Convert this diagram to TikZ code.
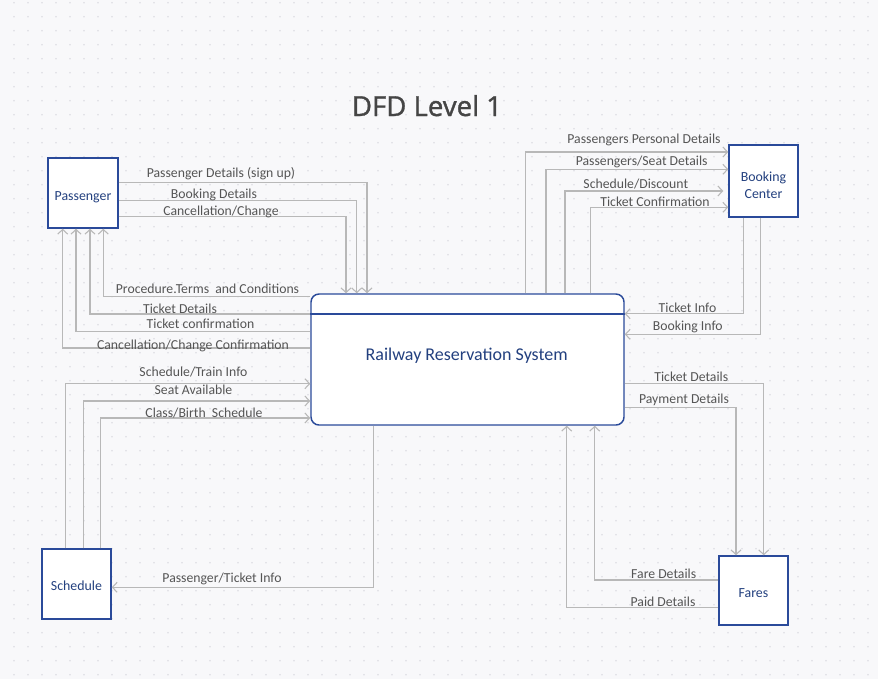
\documentclass[tikz,border=0pt]{standalone}
\usepackage{fontspec}
\setmainfont{Carlito}
\newfontfamily\titlefont{Open Sans}[FakeBold=1.2]
\usetikzlibrary{arrows.meta}
\definecolor{bg}{HTML}{F8F8FA}
\definecolor{dotc}{HTML}{DCDCE2}
\definecolor{boxblue}{HTML}{2A4A9A}
\definecolor{navy}{HTML}{23407F}
\definecolor{flowc}{HTML}{B8B8B8}
\definecolor{labelc}{HTML}{555555}
\definecolor{titlec}{HTML}{454545}
\tikzset{
 entity/.style={draw=boxblue, line width=1.1pt, fill=white, inner sep=0pt},
 etext/.style={text=navy, font=\fontsize{10.4}{13}\selectfont, align=center, inner sep=0pt},
 flow/.style={draw=flowc, line width=0.8pt, -{Straight Barb[length=3.5pt,width=7.5pt]}},
 lbl/.style={text=labelc, font=\fontsize{10.3}{12}\selectfont, anchor=base, inner sep=0pt},
}
\begin{document}
\begin{tikzpicture}[x=0.75pt,y=-0.75pt]
\useasboundingbox (0,0) rectangle (878,679);
\fill[bg] (0,0) rectangle (878,679);
\foreach \i in {1,...,62} {\foreach \j in {0,...,48} {\fill[dotc] (14*\i,2.7+14*\j) circle (0.7pt);}}

\node[font=\titlefont\fontsize{20.7}{24}\selectfont, text=titlec, anchor=base] (title) at (427,116) {DFD Level 1};

% entities
\node[entity, minimum width=52.5pt, minimum height=52.5pt] (P) at (83,193) {};
\node[entity, minimum width=51.75pt, minimum height=54pt] (B) at (763.5,181) {};
\node[entity, minimum width=51.75pt, minimum height=52.5pt] (S) at (76.5,584) {};
\node[entity, minimum width=51.75pt, minimum height=51.75pt] (F) at (753.5,590.5) {};
\node[etext] (Pt) at ([yshift=-3pt]P.center) {Passenger};
\node[etext] (Bt) at ([yshift=-3pt]B.center) {Booking\\Center};
\node[etext] (St) at ([yshift=-1.5pt]S.center) {Schedule};
\node[etext] (Ft) at ([yshift=-2.25pt]F.center) {Fares};

% central process
\node[draw=boxblue, line width=1.1pt, fill=white, rounded corners=6pt,
  minimum width=234.75pt, minimum height=98.25pt, inner sep=0pt] (C) at (467.5,359.5) {};
\draw[boxblue, line width=1.1pt] (C.west |- 0,314) -- (C.east |- 0,314);
\node[text=navy, font=\fontsize{13.5}{16}\selectfont, anchor=base, inner sep=0pt] (ctext) at (466.7,360.7) {Railway Reservation System};

% Passenger -> system
\draw[flow] (P.east |- 0,182.7) -| (C.north -| 367,0);
\draw[flow] (P.east |- 0,200.7) -| (C.north -| 356.7,0);
\draw[flow] (P.east |- 0,216.7) -| (C.north -| 346,0);
% system -> Passenger
\draw[flow] (C.west |- 0,296.7) -| (P.south -| 103.3,0);
\draw[flow] (C.west |- 0,314) -| (P.south -| 90,0);
\draw[flow] (C.west |- 0,331.7) -| (P.south -| 76,0);
\draw[flow] (C.west |- 0,348) -| (P.south -| 62.7,0);
% system -> Booking Center
\draw[flow] (C.north -| 525.3,0) |- (B.west |- 0,152);
\draw[flow] (C.north -| 546,0) |- (B.west |- 0,169.3);
\draw[flow, shorten >=3.75pt] (C.north -| 565,0) |- (B.west |- 0,191);
\draw[flow] (C.north -| 590.7,0) |- (B.west |- 0,207.3);
% Booking Center -> system
\draw[flow] (B.south -| 743.3,0) |- (C.east |- 0,313.7);
\draw[flow] (B.south -| 760.3,0) |- (C.east |- 0,334.3);
% Schedule -> system
\draw[flow] (S.north -| 65.7,0) |- (C.west |- 0,383.7);
\draw[flow] (S.north -| 83.3,0) |- (C.west |- 0,401);
\draw[flow] (S.north -| 100.3,0) |- (C.west |- 0,418);
% system -> Schedule
\draw[flow] (C.south -| 373.3,0) |- (S.east |- 0,587.3);
% system -> Fares
\draw[flow] (C.east |- 0,383.3) -| (F.north -| 763.7,0);
\draw[flow] (C.east |- 0,407.7) -| (F.north -| 736,0);
% Fares -> system
\draw[flow] (F.west |- 0,580) -| (C.south -| 594.7,0);
\draw[flow] (F.west |- 0,607.7) -| (C.south -| 566.7,0);

% labels
\node[lbl] (l1) at (221,177) {Passenger Details (sign up)};
\node[lbl] (l2) at (214,198) {Booking Details};
\node[lbl] (l3) at (221,215.5) {Cancellation/Change};
\node[lbl] (l4) at (207.5,293) {Procedure.Terms\ \ and Conditions};
\node[lbl] (l5) at (180,313) {Ticket Details};
\node[lbl] (l6) at (200.5,328.5) {Ticket confirmation};
\node[lbl] (l7) at (193,349) {Cancellation/Change Confirmation};
\node[lbl] (l8) at (644,143.5) {Passengers Personal Details};
\node[lbl] (l9) at (641.7,165) {Passengers/Seat Details};
\node[lbl] (l10) at (635.8,188) {Schedule/Discount};
\node[lbl] (l11) at (655,206.5) {Ticket Confirmation};
\node[lbl] (l12) at (687.5,312.5) {Ticket Info};
\node[lbl] (l13) at (687.8,330) {Booking Info};
\node[lbl] (l14) at (193.5,376.5) {Schedule/Train Info};
\node[lbl] (l15) at (193.5,394) {Seat Available};
\node[lbl] (l16) at (204,417) {Class/Birth\ \ Schedule};
\node[lbl] (l17) at (222,582) {Passenger/Ticket Info};
\node[lbl] (l18) at (691.3,381.5) {Ticket Details};
\node[lbl] (l19) at (684,403) {Payment Details};
\node[lbl] (l20) at (663.7,578) {Fare Details};
\node[lbl] (l21) at (663,606.5) {Paid Details};
\end{tikzpicture}
\end{document}
